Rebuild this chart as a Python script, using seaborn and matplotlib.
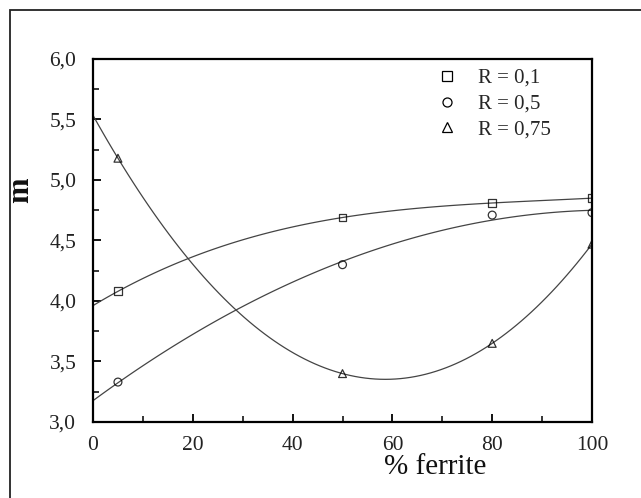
import matplotlib
matplotlib.use("Agg")
import matplotlib.pyplot as plt
import seaborn as sns
import numpy as np
from matplotlib.lines import Line2D
from matplotlib.patches import Rectangle
from matplotlib.ticker import MultipleLocator, FuncFormatter

sns.set_theme(style="white")
plt.rcParams["font.family"] = ["Liberation Serif", "DejaVu Serif"]

# % ferrite and exponent m for each load ratio R
ferrite = [5, 50, 80, 100]
m_r01 = [4.08, 4.69, 4.81, 4.85]
m_r05 = [3.33, 4.30, 4.71, 4.73]
m_r075 = [5.18, 3.40, 3.65, 4.47]
labels = ["R = 0,1", "R = 0,5", "R = 0,75"]
markers = ["s", "o", "^"]
fit_order = [3, 2, 3]

W, H = 641, 498
fig = plt.figure(figsize=(W / 100, H / 100), dpi=100)
ax = fig.add_axes([93 / W, 1 - 422 / H, (592 - 93) / W, (422 - 59) / H])
ax.set_xlim(0, 100)
ax.set_ylim(3.0, 6.0)

for y, mk, order in zip([m_r01, m_r05, m_r075], markers, fit_order):
    sns.regplot(x=np.array(ferrite), y=np.array(y), order=order, ci=None,
                truncate=False, marker=mk, ax=ax,
                scatter_kws=dict(s=32, facecolors="none", edgecolors="black",
                                 linewidths=0.9, zorder=3),
                line_kws=dict(color="#444444", lw=0.9))

ax.set_xlim(0, 100)
ax.set_ylim(3.0, 6.0)
ax.set_xlabel("")
ax.set_ylabel("")

ax.xaxis.set_major_locator(MultipleLocator(20))
ax.xaxis.set_minor_locator(MultipleLocator(10))
ax.yaxis.set_major_locator(MultipleLocator(0.5))
ax.yaxis.set_minor_locator(MultipleLocator(0.25))
ax.yaxis.set_major_formatter(FuncFormatter(lambda v, p: f"{v:.1f}".replace(".", ",")))
ax.xaxis.set_major_formatter(FuncFormatter(lambda v, p: f"{v:.0f}"))
ax.tick_params(which="both", direction="in", color="black", labelsize=15.5,
               labelcolor="#222222", bottom=True, left=True, top=False, right=False)
ax.tick_params(which="major", length=6, width=1.3)
ax.tick_params(which="minor", length=4, width=1.1)
ax.tick_params(axis="x", which="major", pad=10)
ax.tick_params(axis="y", which="major", pad=12)
for s in ax.spines.values():
    s.set_color("black")
    s.set_linewidth(1.6)

handles = [Line2D([], [], ls="none", marker=mk, mfc="none", mec="black",
                  mew=0.9, ms=6.5) for mk in markers]
fig.legend(handles, labels, loc="upper left",
           bbox_to_anchor=(424 / W, 1 - 58 / H), frameon=False,
           fontsize=15, handletextpad=0.9, labelspacing=0.3,
           handlelength=1.2, borderpad=0)

fig.text(435 / W, 1 - 467 / H, "% ferrite", ha="center", va="center",
         fontsize=21, color="#111111")
fig.text(21 / W, 1 - 190 / H, "m", ha="center", va="center", rotation=90,
         fontsize=22, fontweight="bold", color="#111111")

fig.patches.append(Rectangle((10 / W, -0.1), 1.2, 1 - 10 / H + 0.1,
                             transform=fig.transFigure, fill=False,
                             edgecolor="#222222", lw=1.3))

fig.savefig("out.png", dpi=100)
